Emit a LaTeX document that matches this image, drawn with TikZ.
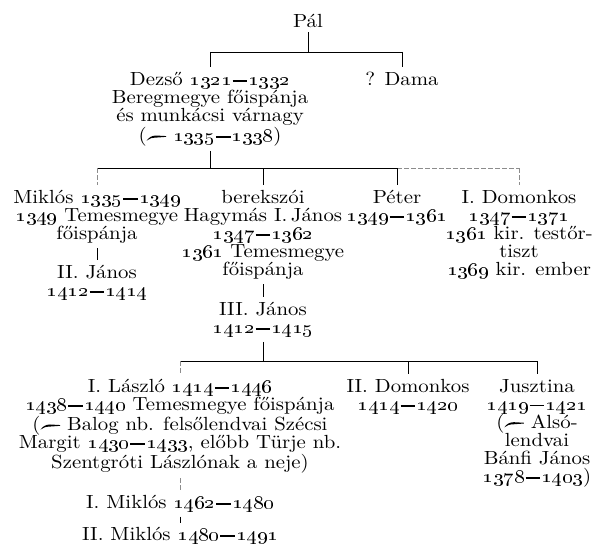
\documentclass[tikz,border=0pt]{standalone}
\newcommand{\ev}[1]{\oldstylenums{#1}}
\newcommand{\evk}[2]{\oldstylenums{#1}\kern0.6pt\rule[2.1pt]{7pt}{0.7pt}\kern0.6pt\oldstylenums{#2}}
\newcommand{\hazas}{\tikz[baseline=0pt,x=1pt,y=1pt]\fill (0,0.6) .. controls (1.2,2.4) and (2.4,3.2) .. (4.5,3.3) -- (9.4,3.0) -- (9.4,2.6) -- (4.5,2.2) .. controls (2.6,2.1) and (1.3,1.9) .. (0,0.6) -- cycle;}

\begin{document}
\begin{tikzpicture}[x=1pt,y=-1pt,
  person/.style={anchor=north,align=center,inner sep=0pt,font=\fontsize{10}{9.5}\selectfont,xscale=2.08,yscale=1.9,transform shape},
  tie/.style={line width=0.6pt},
  faint/.style={tie,black!45,dash pattern=on 5pt off 2pt},
  down/.style={tie,shorten >=5pt},
  up/.style={tie,shorten <=4pt}]
\useasboundingbox (0,0) rectangle (595,551);
% generation lines
\coordinate (g1) at (0,52);
\coordinate (g2) at (0,168);
\coordinate (g3) at (0,361);
% Pál and his children
\node[person] (pal) at (308,14) {Pál};
\node[person] (dezso) at (210,72) {Dezső \evk{1321}{1332}\\Beregmegye főispánja\\és munkácsi várnagy\\(\hazas\ \evk{1335}{1338})};
\node[person] (dama) at (402,72) {? Dama};
% Dezső's children
\node[person] (miklos) at (97,190) {Miklós \evk{1335}{1349}\\\ev{1349} Temesmegye\\főispánja};
\node[person] (hagymas) at (263,190) {berekszói\\Hagymás I.\,János\\\evk{1347}{1362}\\\ev{1361} Temesmegye\\főispánja};
\node[person] (peter) at (397,190) {Péter\\\evk{1349}{1361}};
\node[person] (domI) at (519,190) {I. Domonkos\\\evk{1347}{1371}\\\ev{1361} kir. testőr-\\tiszt\\\ev{1369} kir. ember};
\node[person] (janosII) at (97,265) {II. János\\\evk{1412}{1414}};
\node[person] (janosIII) at (263,302) {III. János\\\evk{1412}{1415}};
% III. János' children
\node[person] (laszlo) at (180,379) {I. László \evk{1414}{1446}\\\evk{1438}{1440} Temesmegye főispánja\\(\hazas\ Balog nb. felsőlendvai Szécsi\\Margit \evk{1430}{1433}, előbb Türje nb.\\Szentgróti Lászlónak a neje)};
\node[person] (domII) at (408,379) {II. Domonkos\\\evk{1414}{1420}};
\node[person] (jusztina) at (537,379) {Jusztina\\\evk{1419}{1421}\\(\hazas\ Alsó-\\lendvai\\Bánfi János\\\evk{1378}{1403})};
\node[person] (miklosI) at (180,495) {I. Miklós \evk{1462}{1480}};
\node[person] (miklosII) at (180,527) {II. Miklós \evk{1480}{1491}};
% lines
\draw[up] (pal.south) -- (pal.south|-g1);
\draw[tie] (dezso.north|-g1) -- (dama.north|-g1);
\foreach \c in {dezso,dama} \draw[down] (\c.north|-g1) -- (\c.north);
\draw[up] (dezso.south) -- (dezso.south|-g2);
\draw[tie] (miklos.north|-g2) -- (peter.north|-g2);
\draw[faint] (peter.north|-g2) -- (domI.north|-g2);
\foreach \c in {hagymas,peter} \draw[down] (\c.north|-g2) -- (\c.north);
\foreach \c in {miklos,domI} \draw[faint,shorten >=5pt] (\c.north|-g2) -- (\c.north);
\draw[up,shorten >=5pt] (miklos.south) -- (janosII.north);
\draw[up,shorten >=5pt] (hagymas.south) -- (janosIII.north);
\draw[up] (janosIII.south) -- (janosIII.south|-g3);
\draw[tie] (laszlo.north|-g3) -- (jusztina.north|-g3);
\draw[faint,shorten >=5pt] (laszlo.north|-g3) -- (laszlo.north);
\foreach \c in {domII,jusztina} \draw[down] (\c.north|-g3) -- (\c.north);
\draw[faint,shorten <=4pt,shorten >=4pt] (laszlo.south) -- (miklosI.north);
\draw[up,shorten >=4pt] (miklosI.south) -- (miklosII.north);
\end{tikzpicture}
\end{document}
